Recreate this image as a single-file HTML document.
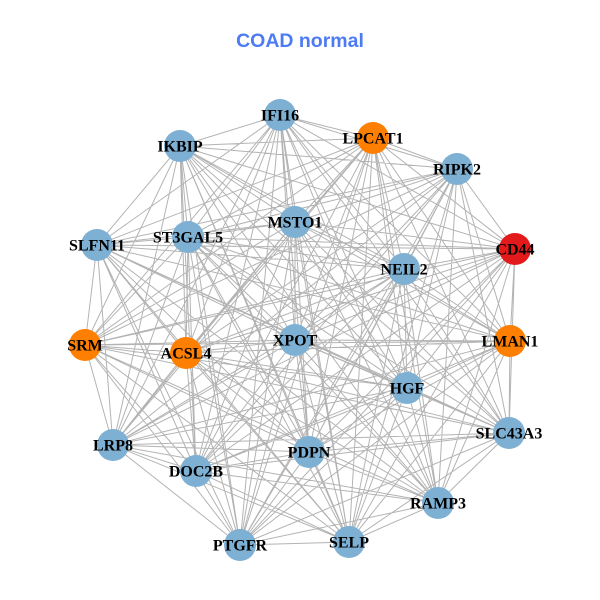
<!DOCTYPE html>
<html>
<head>
<meta charset="utf-8">
<style>
html,body{margin:0;padding:0;background:#fff;}
svg{display:block;}
.l{font-family:"Liberation Serif",serif;font-weight:bold;font-size:16px;fill:#000;text-anchor:middle;}
</style>
</head>
<body>
<svg width="600" height="600" viewBox="0 0 600 600" xmlns="http://www.w3.org/2000/svg">
<rect width="600" height="600" fill="#fff"/>
<text x="300" y="47" text-anchor="middle" style="font-family:'Liberation Sans',sans-serif;font-weight:bold;font-size:19.5px;fill:#4D7BF3;">COAD normal</text>
<path fill="none" stroke="#b3b3b3" stroke-width="1" d="
M280 115L180 146M280 115L373 138M280 115L457 169M280 115L97 245M280 115L188 237M280 115L295 222M280 115L515 249M280 115L404 269M280 115L85 345M280 115L186 353M280 115L295 340M280 115L510 341M280 115L407 388M280 115L113 445M280 115L196 471M280 115L309 452M280 115L509 433M280 115L438 503M280 115L240 545M280 115L349 542
M180 146L373 138M180 146L457 169M180 146L97 245M180 146L188 237M180 146L295 222M180 146L515 249M180 146L404 269M180 146L85 345M180 146L186 353M180 146L295 340M180 146L510 341M180 146L407 388M180 146L113 445M180 146L196 471M180 146L309 452M180 146L509 433M180 146L438 503M180 146L240 545M180 146L349 542
M373 138L457 169M373 138L97 245M373 138L188 237M373 138L295 222M373 138L515 249M373 138L404 269M373 138L85 345M373 138L186 353M373 138L295 340M373 138L510 341M373 138L407 388M373 138L113 445M373 138L196 471M373 138L309 452M373 138L509 433M373 138L438 503M373 138L240 545M373 138L349 542
M457 169L97 245M457 169L188 237M457 169L295 222M457 169L515 249M457 169L404 269M457 169L85 345M457 169L186 353M457 169L295 340M457 169L510 341M457 169L407 388M457 169L113 445M457 169L196 471M457 169L309 452M457 169L509 433M457 169L438 503M457 169L240 545M457 169L349 542
M97 245L188 237M97 245L295 222M97 245L515 249M97 245L404 269M97 245L85 345M97 245L186 353M97 245L295 340M97 245L510 341M97 245L407 388M97 245L113 445M97 245L196 471M97 245L309 452M97 245L509 433M97 245L438 503M97 245L240 545M97 245L349 542
M188 237L295 222M188 237L515 249M188 237L404 269M188 237L85 345M188 237L186 353M188 237L295 340M188 237L510 341M188 237L407 388M188 237L113 445M188 237L196 471M188 237L309 452M188 237L509 433M188 237L438 503M188 237L240 545M188 237L349 542
M295 222L515 249M295 222L404 269M295 222L85 345M295 222L186 353M295 222L295 340M295 222L510 341M295 222L407 388M295 222L113 445M295 222L196 471M295 222L309 452M295 222L509 433M295 222L438 503M295 222L240 545M295 222L349 542
M515 249L404 269M515 249L85 345M515 249L186 353M515 249L295 340M515 249L510 341M515 249L407 388M515 249L113 445M515 249L196 471M515 249L309 452M515 249L509 433M515 249L438 503M515 249L240 545M515 249L349 542
M404 269L85 345M404 269L186 353M404 269L295 340M404 269L510 341M404 269L407 388M404 269L113 445M404 269L196 471M404 269L309 452M404 269L509 433M404 269L438 503M404 269L240 545M404 269L349 542
M85 345L186 353M85 345L295 340M85 345L510 341M85 345L407 388M85 345L113 445M85 345L196 471M85 345L309 452M85 345L509 433M85 345L438 503M85 345L240 545M85 345L349 542
M186 353L295 340M186 353L510 341M186 353L407 388M186 353L113 445M186 353L196 471M186 353L309 452M186 353L509 433M186 353L438 503M186 353L240 545M186 353L349 542
M295 340L510 341M295 340L407 388M295 340L113 445M295 340L196 471M295 340L309 452M295 340L509 433M295 340L438 503M295 340L240 545M295 340L349 542
M510 341L407 388M510 341L113 445M510 341L196 471M510 341L309 452M510 341L509 433M510 341L438 503M510 341L240 545M510 341L349 542
M407 388L113 445M407 388L196 471M407 388L309 452M407 388L509 433M407 388L438 503M407 388L240 545M407 388L349 542
M113 445L196 471M113 445L309 452M113 445L509 433M113 445L438 503M113 445L240 545M113 445L349 542
M196 471L309 452M196 471L509 433M196 471L438 503M196 471L240 545M196 471L349 542
M309 452L509 433M309 452L438 503M309 452L240 545M309 452L349 542
M509 433L438 503M509 433L240 545M509 433L349 542
M438 503L240 545M438 503L349 542
M240 545L349 542"/>
<g>
<circle cx="280" cy="115" r="16" fill="#7EB0D3"/>
<circle cx="180" cy="146" r="16" fill="#7EB0D3"/>
<circle cx="373" cy="138" r="16" fill="#FF7F00"/>
<circle cx="457" cy="169" r="16" fill="#7EB0D3"/>
<circle cx="97" cy="245" r="16" fill="#7EB0D3"/>
<circle cx="188" cy="237" r="16" fill="#7EB0D3"/>
<circle cx="295" cy="222" r="16" fill="#7EB0D3"/>
<circle cx="515" cy="249" r="16" fill="#E31A1C"/>
<circle cx="404" cy="269" r="16" fill="#7EB0D3"/>
<circle cx="85" cy="345" r="16" fill="#FF7F00"/>
<circle cx="186" cy="353" r="16" fill="#FF7F00"/>
<circle cx="295" cy="340" r="16" fill="#7EB0D3"/>
<circle cx="510" cy="341" r="16" fill="#FF7F00"/>
<circle cx="407" cy="388" r="16" fill="#7EB0D3"/>
<circle cx="113" cy="445" r="16" fill="#7EB0D3"/>
<circle cx="196" cy="471" r="16" fill="#7EB0D3"/>
<circle cx="309" cy="452" r="16" fill="#7EB0D3"/>
<circle cx="509" cy="433" r="16" fill="#7EB0D3"/>
<circle cx="438" cy="503" r="16" fill="#7EB0D3"/>
<circle cx="240" cy="545" r="16" fill="#7EB0D3"/>
<circle cx="349" cy="542" r="16" fill="#7EB0D3"/>
</g>
<g>
<text class="l" x="280" y="120.5">IFI16</text>
<text class="l" x="180" y="151.5">IKBIP</text>
<text class="l" x="373" y="143.5">LPCAT1</text>
<text class="l" x="457" y="174.5">RIPK2</text>
<text class="l" x="97" y="250.5">SLFN11</text>
<text class="l" x="188" y="242.5">ST3GAL5</text>
<text class="l" x="295" y="227.5">MSTO1</text>
<text class="l" x="515" y="254.5">CD44</text>
<text class="l" x="404" y="274.5">NEIL2</text>
<text class="l" x="85" y="350.5">SRM</text>
<text class="l" x="186" y="358.5">ACSL4</text>
<text class="l" x="295" y="345.5">XPOT</text>
<text class="l" x="510" y="346.5">LMAN1</text>
<text class="l" x="407" y="393.5">HGF</text>
<text class="l" x="113" y="450.5">LRP8</text>
<text class="l" x="196" y="476.5">DOC2B</text>
<text class="l" x="309" y="457.5">PDPN</text>
<text class="l" x="509" y="438.5">SLC43A3</text>
<text class="l" x="438" y="508.5">RAMP3</text>
<text class="l" x="240" y="550.5">PTGFR</text>
<text class="l" x="349" y="547.5">SELP</text>
</g>
</svg>
</body>
</html>
